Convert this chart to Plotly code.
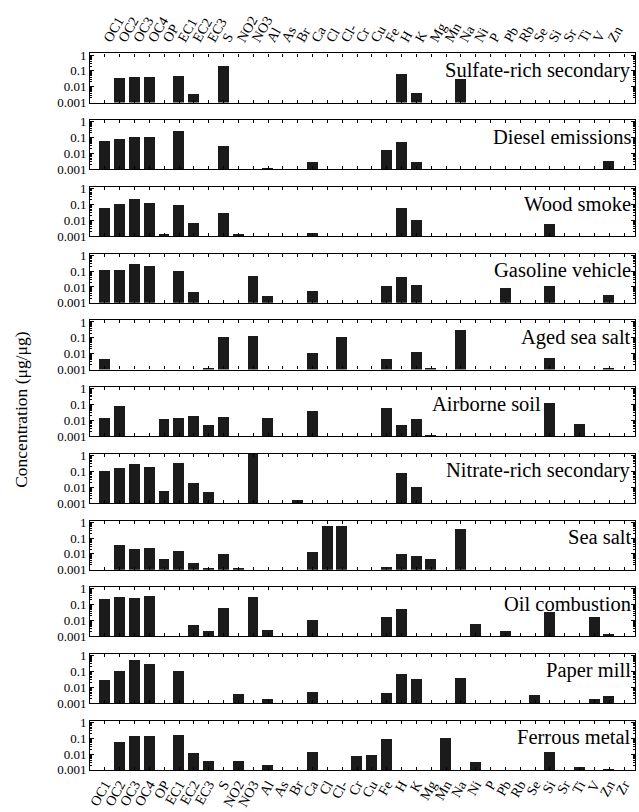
import plotly.graph_objects as go

N = None
categories = ["OC1", "OC2", "OC3", "OC4", "OP", "EC1", "EC2", "EC3", "S", "NO2", "NO3",
              "Al", "As", "Br", "Ca", "Cl", "Cl-", "Cr", "Cu", "Fe", "H", "K", "Mg", "Mn",
              "Na", "Ni", "P", "Pb", "Rb", "Se", "Si", "Sr", "Ti", "V", "Zn", "Zr"]

#            OC1    OC2    OC3    OC4    OP     EC1    EC2    EC3    S      NO2    NO3    Al     As  Br     Ca     Cl   Cl-   Cr     Cu     Fe     H      K      Mg     Mn   Na     Ni     P  Pb     Rb Se     Si     Sr Ti     V      Zn     Zr
sulfate   = [N,     0.032, 0.036, 0.041, N,     0.045, 0.0031, N,    0.18,  N,     N,     N,     N,  N,     N,     N,   N,    N,     N,     N,     0.063, 0.0038, N,    N,   0.030, N,     N, N,     N, N,     N,     N, N,     N,     N,     N]
diesel    = [0.057, 0.080, 0.11,  0.10,  N,     0.26,  N,     N,     0.028, N,     N,     0.0012, N, N,     0.0030, N,  N,    N,     N,     0.017, 0.050, 0.0027, N,    N,   N,     N,     N, N,     N, N,     N,     N, N,     N,     0.0032, N]
wood      = [0.060, 0.10,  0.21,  0.13,  0.0014, 0.095, 0.0072, N,   0.030, 0.0013, N,    N,     N,  N,     0.0016, N,  N,    N,     N,     N,     0.058, 0.011, N,     N,   N,     N,     N, N,     N, N,     0.0058, N, N,     N,     N,     N]
gasoline  = [0.12,  0.12,  0.30,  0.21,  N,     0.10,  0.0050, N,    N,     N,     0.055, 0.0028, N, N,     0.0060, N,  N,    N,     N,     0.012, 0.042, 0.013, N,     N,   N,     N,     N, 0.0085, N, N,    0.012, N,  N,     N,     0.0035, N]
aged_salt = [0.0045, N,    N,     N,     N,     N,     N,     0.0011, 0.11, N,     0.13,  N,     N,  N,     0.011, N,   0.10, N,     N,     0.0046, N,    0.012, 0.0011, N,   0.28,  N,     N, N,     N, N,     0.0050, N, N,     N,     0.0011, N]
soil      = [0.015, 0.080, N,     N,     0.012, 0.014, 0.020, 0.0050, 0.016, N,    N,     0.015, N,  N,     0.040, N,   N,    N,     N,     0.060, 0.0050, 0.012, 0.0011, N,   N,     N,     N, N,     N, N,     0.12,  N,  0.0060, N,    N,     N]
nitrate   = [0.10,  0.16,  0.30,  0.20,  0.0060, 0.35, 0.020, 0.0050, N,    N,     1.5,   N,     N,  0.0016, N,    N,   N,    N,     N,     N,     0.080, 0.011, N,     N,   N,     N,     N, N,     N, N,     N,     N, N,     N,     N,     N]
sea_salt  = [N,     0.040, 0.023, 0.025, 0.0050, 0.016, 0.0027, 0.0013, 0.011, 0.0013, N,  N,     N,  N,     0.014, 0.60, 0.65, N,     N,     0.0016, 0.010, 0.0075, 0.0050, N, 0.42,  N,     N, N,     N, N,     N,     N, N,     N,     N,     N]
oil       = [0.22,  0.28,  0.25,  0.33,  N,     N,     0.0050, 0.0021, 0.063, N,    0.30,  0.0023, N, N,     0.011, N,   N,    N,     N,     0.016, 0.055, N,     N,     N,   N,     0.0060, N, 0.0020, N, N,    0.032, N,  N,     0.017, 0.0014, N]
paper     = [0.030, 0.10,  0.50,  0.30,  N,     0.11,  N,     N,     N,     0.0036, N,    0.0019, N, N,     0.0053, N,  N,    N,     N,     0.0046, 0.066, 0.032, N,    N,   0.040, N,     N, N,     N, 0.0033, N,    N, N,     0.0019, 0.0027, N]
ferrous   = [N,     0.063, 0.15,  0.15,  N,     0.17,  0.012, 0.0038, N,     0.0036, N,    0.0020, N, N,     0.0137, N,  N,    0.0078, 0.0085, 0.087, N,    N,     N,     0.10, N,     0.0035, N, N,     N, N,     0.0137, N, 0.0016, N,    0.0011, N]

panel_names = ["Sulfate-rich secondary", "Diesel emissions", "Wood smoke", "Gasoline vehicle",
               "Aged sea salt", "Airborne soil", "Nitrate-rich secondary", "Sea salt",
               "Oil combustion", "Paper mill", "Ferrous metal"]
panel_values = [sulfate, diesel, wood, gasoline, aged_salt, soil, nitrate, sea_salt,
                oil, paper, ferrous]

ytick_vals = [0.001, 0.01, 0.1, 1]
ytick_text = ["0.001", "0.01", "0.1", "1"]

W, H = 639, 812
FONT = "Liberation Serif"
x_left, x_right = 87.7, 635.0
top0, pitch, ph = 48.3, 67.9, 50.0

fig = go.Figure()
layout = dict(width=W, height=H, margin=dict(l=0, r=0, t=0, b=0),
              paper_bgcolor="white", plot_bgcolor="white", showlegend=False,
              font=dict(family=FONT, color="black"), bargap=0)
annotations = []
idx = list(range(len(categories)))
minor_vals = [m * 10 ** e for e in (-3, -2, -1) for m in range(2, 10)]

for i, (name, vals) in enumerate(zip(panel_names, panel_values)):
    n = i + 1
    top = top0 + pitch * i
    bot = top + ph
    fig.add_trace(go.Bar(x=idx, y=vals, xaxis=f"x{n}", yaxis=f"y{n}", width=0.74,
                         marker=dict(color="#1b1b1b", line=dict(width=0))))
    xa = dict(domain=[x_left / W, x_right / W], anchor=f"y{n}", range=[-0.99, 35.74],
              tickmode="array", tickvals=idx, ticktext=categories,
              ticks="inside", ticklen=3, tickwidth=1, tickcolor="black",
              showline=True, linecolor="black", linewidth=1.2, mirror="ticks",
              showgrid=False, zeroline=False, showticklabels=False,
              tickfont=dict(family=FONT, size=14, color="black"), tickangle=-60)
    if i == 0:
        xa.update(side="top", showticklabels=True)
    if i == len(panel_names) - 1:
        xa.update(side="bottom", showticklabels=True)
    ya = dict(domain=[1 - bot / H, 1 - top / H], anchor=f"x{n}", type="log",
              range=[-3, 0.1], tickmode="array", tickvals=ytick_vals, ticktext=ytick_text,
              ticks="inside", ticklen=4, tickwidth=1, tickcolor="black",
              showline=True, linecolor="black", linewidth=1.2, mirror="ticks",
              showgrid=False, zeroline=False,
              minor=dict(ticks="inside", ticklen=2, tickcolor="black", tickvals=minor_vals),
              tickfont=dict(family=FONT, size=13, color="black"))
    layout["xaxis" if n == 1 else f"xaxis{n}"] = xa
    layout["yaxis" if n == 1 else f"yaxis{n}"] = ya
    xr = 543.0 if name == "Airborne soil" else 633.0
    annotations.append(dict(text=name, xref="paper", yref="paper", x=xr / W,
                            y=1 - (bot - 0.66 * ph) / H, xanchor="right", yanchor="middle",
                            showarrow=False, font=dict(family=FONT, size=20.5, color="black")))

annotations.append(dict(text="Concentration (μg/μg)", xref="paper", yref="paper",
                        x=18 / W, y=1 - 411 / H, textangle=-90, showarrow=False,
                        xanchor="center", yanchor="middle",
                        font=dict(family=FONT, size=17.5, color="black")))
layout["annotations"] = annotations
fig.update_layout(**layout)
fig.write_html("out.html", config={"displayModeBar": False},
               post_script="document.body.style.margin='0';document.body.style.overflow='hidden';")
